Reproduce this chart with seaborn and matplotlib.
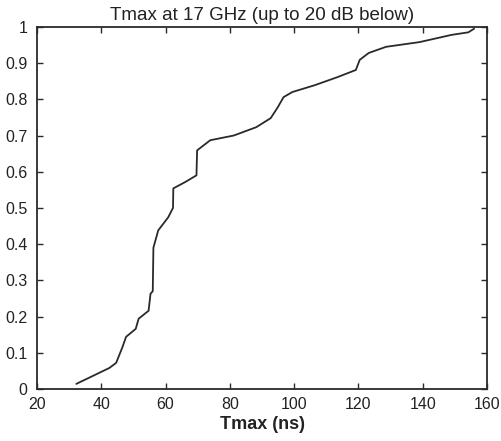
import matplotlib
matplotlib.use("Agg")
import matplotlib.pyplot as plt
import seaborn as sns
import pandas as pd

tmax_ns = [32.2, 42.5, 44.6, 46.5, 47.7, 50.7, 51.6, 54.7, 55.3, 56.0, 56.2, 57.7,
           60.8, 62.3, 62.4, 66.0, 69.6, 69.8, 73.9, 81.2, 88.2, 92.7, 94.9,
           96.7, 99.4, 106.4, 113.4, 119.2, 120.4, 123.2, 128.6, 139.0, 149.0,
           154.2, 156.0]
cdf = [0.014, 0.058, 0.072, 0.114, 0.144, 0.166, 0.194, 0.216, 0.263, 0.27, 0.39,
       0.438, 0.474, 0.50, 0.554, 0.571, 0.59, 0.659, 0.687, 0.70, 0.723, 0.748,
       0.778, 0.806, 0.82, 0.839, 0.861, 0.881, 0.909, 0.928, 0.945, 0.958,
       0.978, 0.985, 0.995]
x_ticks = [20, 40, 60, 80, 100, 120, 140, 160]
y_ticks = [0, 0.1, 0.2, 0.3, 0.4, 0.5, 0.6, 0.7, 0.8, 0.9, 1]
y_labels = ["0", "0.1", "0.2", "0.3", "0.4", "0.5", "0.6", "0.7", "0.8", "0.9", "1"]

sns.set_style("ticks")
plt.rcParams['font.family'] = ['Liberation Sans', 'DejaVu Sans']

fig = plt.figure(figsize=(5.01, 4.41), dpi=100)
ax = fig.add_axes([0.074, 0.118, 0.898, 0.821])

df = pd.DataFrame({"Tmax (ns)": tmax_ns, "cdf": cdf})
sns.lineplot(data=df, x="Tmax (ns)", y="cdf", ax=ax, color="#2a2a2a",
             linewidth=1.3, sort=False, estimator=None)

ax.set_xlim(20, 160)
ax.set_ylim(0, 1)
ax.set_xticks(x_ticks)
ax.set_xticklabels([str(v) for v in x_ticks])
ax.set_yticks(y_ticks)
ax.set_yticklabels(y_labels)
ax.tick_params(direction="in", length=4, width=1, colors="#2a2a2a",
               labelsize=11.5, labelcolor="#222222", top=True, right=True,
               pad=6)
ax.tick_params(axis="y", pad=7)
for sp in ax.spines.values():
    sp.set_visible(True)
    sp.set_color("#2a2a2a")
    sp.set_linewidth(1.3)

ax.set_title("Tmax at 17 GHz (up to 20 dB below)", fontsize=13.5, color="#222222", pad=5)
ax.set_xlabel("Tmax (ns)", fontsize=13, fontweight="bold", color="#222222", labelpad=3)
ax.set_ylabel("")

fig.savefig("out.png", dpi=100)
